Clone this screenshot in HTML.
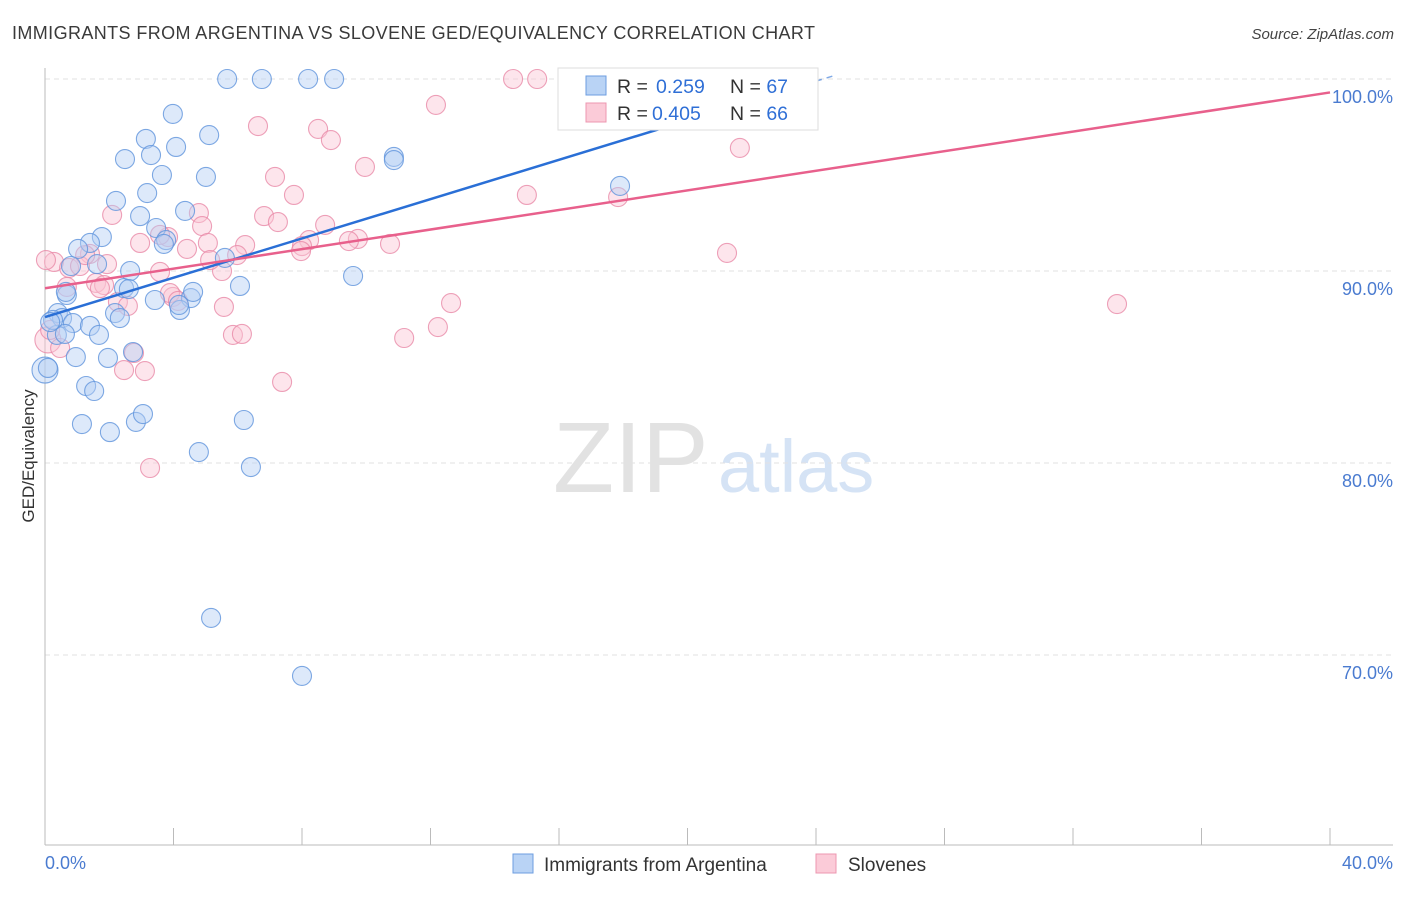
<!DOCTYPE html>
<html><head><meta charset="utf-8"><style>
body{margin:0;background:#fff;font-family:"Liberation Sans",sans-serif}
svg text{font-family:"Liberation Sans",sans-serif}
</style></head><body>
<svg id="chart" width="1406" height="892" xmlns="http://www.w3.org/2000/svg">
<text x="12" y="39" font-size="18" fill="#3a3a3a" textLength="803">IMMIGRANTS FROM ARGENTINA VS SLOVENE GED/EQUIVALENCY CORRELATION CHART</text>
<text x="1394" y="39" font-size="15" fill="#444" text-anchor="end" font-style="italic">Source: ZipAtlas.com</text>
<text transform="translate(34,456) rotate(-90)" font-size="17" fill="#333" text-anchor="middle">GED/Equivalency</text>
<g>
<text x="553" y="492" font-size="100" fill="#e2e2e2" font-family="Liberation Serif" >ZIP</text>
<text x="718" y="492" font-size="74" fill="#d5e3f5">atlas</text>
</g>
<g id="grid"></g><g id="axes"></g><g id="pts"></g><g id="lines"></g>
<g>
<rect x="558" y="68" width="260" height="62" fill="#fff" stroke="#ddd"/>
<rect x="586" y="76" width="20" height="19" fill="#b9d3f5" stroke="#6d9ee0"/>
<rect x="586" y="103" width="20" height="19" fill="#fbcbd8" stroke="#ec97b0"/>
<text x="617" y="93" font-size="19.5" fill="#333">R = <tspan x="656" fill="#2f6fd6">0.259</tspan><tspan x="730">N = </tspan><tspan fill="#2f6fd6">67</tspan></text>
<text x="617" y="120" font-size="19.5" fill="#333">R = <tspan x="652" fill="#2f6fd6">0.405</tspan><tspan x="730">N = </tspan><tspan fill="#2f6fd6">66</tspan></text>
</g>
<g>
<rect x="513" y="854" width="20" height="19" fill="#b9d3f5" stroke="#6d9ee0"/>
<text x="544" y="871" font-size="19" fill="#333">Immigrants from Argentina</text>
<rect x="816" y="854" width="20" height="19" fill="#fbcbd8" stroke="#ec97b0"/>
<text x="848" y="871" font-size="19" fill="#333">Slovenes</text>
</g>
</svg>
<script>
const blueX=[5.67,6.75,8.19,9.0,3.98,5.11,3.14,4.08,3.30,2.49,10.86,10.86,3.64,5.01,17.9,3.18,2.21,4.36,2.96,3.46,1.77,1.40,1.03,3.77,3.70,0.81,1.62,2.65,5.60,9.59,6.07,0.68,2.46,2.61,3.42,4.54,4.61,4.20,4.17,0.40,0.53,0.87,1.40,1.68,2.18,2.33,0.37,0.62,0.96,1.96,2.74,0,0.09,1.28,1.53,1.15,2.02,2.83,3.05,6.19,4.79,6.41,5.17,8.0,0.25,0.16,0.65];
const blueY=[100,100,100,100,98.18,97.08,96.88,96.46,96.04,95.83,95.94,95.78,95.0,94.9,94.43,94.06,93.65,93.13,92.86,92.24,91.77,91.46,91.15,91.61,91.41,90.26,90.36,90.0,90.68,89.74,89.22,88.75,89.11,89.06,88.49,88.59,88.91,87.97,88.23,87.81,87.55,87.29,87.14,86.67,87.81,87.55,86.67,86.72,85.52,85.47,85.78,84.84,84.95,84.01,83.75,82.03,81.61,82.14,82.55,82.24,80.57,79.79,71.93,68.91,87.45,87.34,88.91];
const bigBlue=[51];
const pinkX=[14.57,15.32,12.17,6.63,8.50,8.90,21.63,9.96,7.16,7.75,15.0,17.84,2.09,4.79,6.82,7.25,4.89,8.72,3.83,2.96,9.74,9.46,10.74,8.22,8.0,7.97,6.23,5.07,4.42,5.98,21.23,1.40,0.28,0.03,1.93,0.75,1.09,3.58,5.51,1.59,0.68,1.84,3.98,2.27,2.58,3.89,4.14,5.57,12.64,33.37,12.23,11.18,5.85,6.13,2.77,2.46,3.11,7.38,3.27,0.09,0.47,0.16,3.58,1.71,1.25,5.14];
const pinkY=[100,100,98.65,97.55,97.40,96.82,96.41,95.42,94.90,93.96,93.96,93.85,92.92,93.02,92.86,92.55,92.34,92.40,91.77,91.46,91.67,91.56,91.41,91.61,91.30,91.04,91.35,91.46,91.15,90.83,90.94,90.89,90.47,90.57,90.36,90.16,90.26,89.95,90.0,89.38,89.17,89.27,88.65,88.39,88.18,88.85,88.44,88.13,88.33,88.28,87.08,86.51,86.67,86.72,85.73,84.84,84.79,84.22,79.74,86.41,85.99,86.93,91.88,89.11,90.83,90.57];
const bigPink=[59];
const yTicks=[100,90,80,70];
const yTickLabels=["100.0%","90.0%","80.0%","70.0%"];
const blueTrend=[87.6,0.512];
const pinkTrend=[89.1,0.255];
const NS="http://www.w3.org/2000/svg";
const sx=v=>45+v*32.125, sy=v=>79+(100-v)*19.2;
function mk(tag,attrs,parent){const e=document.createElementNS(NS,tag);for(const k in attrs)e.setAttribute(k,attrs[k]);document.getElementById(parent).appendChild(e);return e;}
yTicks.forEach((t,i)=>{
 const g=mk('line',{x1:45,x2:1393,y1:sy(t),y2:sy(t),stroke:'#e2e2e2','stroke-dasharray':'5,4'},'grid');
 
 
 const l=mk('text',{x:1393,y:sy(t)+24,'font-size':18,fill:'#4a7bd0','text-anchor':'end'},'grid');
 l.textContent=yTickLabels[i];
 
 
});
const ax=mk('line',{x1:45,x2:45,y1:68,y2:845,stroke:'#bbb'},'axes');


const bx=mk('line',{x1:45,x2:1393,y1:845,y2:845,stroke:'#bbb'},'axes');


for(let i=1;i<=10;i++){const t=mk('line',{x1:sx(i*4),x2:sx(i*4),y1:828,y2:845,stroke:'#bbb'},'axes');
 
 }
const x0=mk('text',{x:45,y:869,'font-size':18,fill:'#4a7bd0'},'axes');x0.textContent='0.0%';


const x1=mk('text',{x:1393,y:869,'font-size':18,fill:'#4a7bd0','text-anchor':'end'},'axes');x1.textContent='40.0%';


function pts(X,Y,big,fill,stroke,name){X.forEach((x,i)=>{const r=big.includes(i)?13:9.5;
 const c=mk('circle',{cx:sx(x),cy:sy(Y[i]),r:r,fill:fill,'fill-opacity':0.45,stroke:stroke,'stroke-opacity':0.8,'stroke-width':1.1},'pts');
 
 });}
pts(pinkX,pinkY,bigPink,'#fbc6d4','#e88aa8','slovene-point');
pts(blueX,blueY,bigBlue,'#b3cff4','#5f93dc','argentina-point');
const bEnd=20.4;
let l1=mk('line',{x1:sx(0),y1:sy(blueTrend[0]),x2:sx(bEnd),y2:sy(blueTrend[0]+blueTrend[1]*bEnd),stroke:'#2a6fd6','stroke-width':2.5},'lines');


let l2=mk('line',{x1:sx(bEnd),y1:sy(blueTrend[0]+blueTrend[1]*bEnd),x2:sx(24.6),y2:sy(blueTrend[0]+blueTrend[1]*24.6),stroke:'#2a6fd6','stroke-width':1.5,'stroke-dasharray':'6,5','stroke-opacity':0.6},'lines');


let l3=mk('line',{x1:sx(0),y1:sy(pinkTrend[0]),x2:sx(40),y2:sy(pinkTrend[0]+pinkTrend[1]*40),stroke:'#e8608c','stroke-width':2.5},'lines');


</script>
</body></html>
